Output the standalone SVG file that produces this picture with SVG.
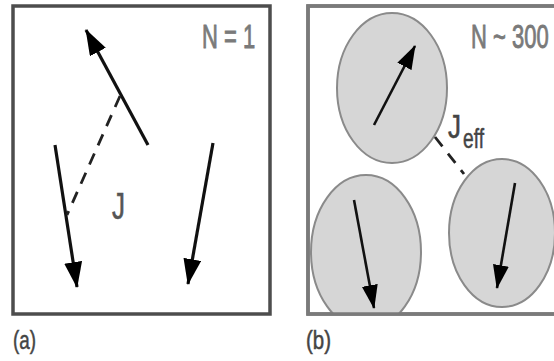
<svg xmlns="http://www.w3.org/2000/svg" width="554" height="361" viewBox="0 0 554 361">
<style>
.frameA{fill:#fff;stroke:#4d4d4d;stroke-width:3.5}
.frameB{fill:#fff;stroke:#7a7a7a;stroke-width:3.5}
.spin{stroke:#111;stroke-width:3.2;fill:none;marker-end:url(#head)}
.spinB{stroke:#111;stroke-width:2.6;fill:none;marker-end:url(#headB)}
.dash{stroke:#222;stroke-width:2.8;fill:none;stroke-dasharray:12 9}
.grain{fill:#d6d6d6;stroke:#8a8a8a;stroke-width:2}
.lbl{font-family:"Liberation Sans",Arial,sans-serif;}
</style>
<defs>
<marker id="head" markerUnits="userSpaceOnUse" viewBox="0 0 26 18" refX="25" refY="9" markerWidth="26" markerHeight="18" orient="auto">
<path d="M0,0 L26,9 L0,18 Z" fill="#000"/>
</marker>
<marker id="headB" markerUnits="userSpaceOnUse" viewBox="0 0 24 16" refX="23" refY="8" markerWidth="24" markerHeight="16" orient="auto">
<path d="M0,0 L24,8 L0,16 Z" fill="#000"/>
</marker>
<clipPath id="clipB"><rect x="308" y="6" width="260" height="308"/></clipPath>
</defs>

<g id="panelA">
<rect class="frameA" x="13" y="6" width="257" height="308"/>
<text class="lbl" transform="translate(202,48) scale(1,1.5)" x="0" y="0" font-size="22" fill="#7a7a7a" stroke="#7a7a7a" stroke-width="0.6">N = 1</text>
<text class="lbl" x="13" y="349" font-size="25" fill="#444" stroke="#444" stroke-width="0.5" textLength="23" lengthAdjust="spacingAndGlyphs">(a)</text>
</g>

<g id="panelB">
<rect class="frameB" x="308" y="6" width="260" height="308"/>
<text class="lbl" transform="translate(471,48) scale(1,1.5)" x="0" y="0" font-size="22" fill="#7a7a7a" stroke="#7a7a7a" stroke-width="0.6">N ~ 300</text>
<text class="lbl" x="306" y="349" font-size="25" fill="#444" stroke="#444" stroke-width="0.5" textLength="25" lengthAdjust="spacingAndGlyphs">(b)</text>
</g>

<g id="grain1">
<ellipse class="grain" cx="392" cy="88" rx="55" ry="75"/>
<line class="spinB" x1="374" y1="125" x2="415" y2="46"/>
</g>
<g id="grain2" clip-path="url(#clipB)">
<ellipse class="grain" cx="366" cy="252" rx="55" ry="77"/>
<line class="spinB" x1="354" y1="200" x2="374" y2="308"/>
</g>
<g id="grain3" clip-path="url(#clipB)">
<ellipse class="grain" cx="502" cy="233" rx="53" ry="74"/>
<line class="spinB" x1="515" y1="183" x2="497" y2="288"/>
</g>
<rect x="308" y="6" width="260" height="308" fill="none" stroke="#7a7a7a" stroke-width="3.5"/>

<g id="spinA1">
<line class="spin" x1="148" y1="145" x2="86" y2="30"/>
</g>
<g id="spinA2">
<line class="spin" x1="55" y1="145" x2="77" y2="287"/>
</g>
<g id="spinA3">
<line class="spin" x1="213" y1="143" x2="188" y2="284"/>
</g>

<g id="connectors">
<line class="dash" x1="120" y1="96" x2="67" y2="215"/>
<line class="dash" x1="435" y1="137" x2="464" y2="174" stroke-dasharray="14 8"/>
</g>

<g id="labels">
<text class="lbl" x="112" y="219" font-size="36" fill="#555" stroke="#555" stroke-width="0.6" textLength="13" lengthAdjust="spacingAndGlyphs">J</text>
<text class="lbl" x="448" y="138" font-size="34" fill="#444" stroke="#444" stroke-width="0.6" textLength="13" lengthAdjust="spacingAndGlyphs">J</text>
<text class="lbl" x="463" y="148" font-size="28" fill="#444" stroke="#444" stroke-width="0.5" textLength="21" lengthAdjust="spacingAndGlyphs">eff</text>
</g>
</svg>
